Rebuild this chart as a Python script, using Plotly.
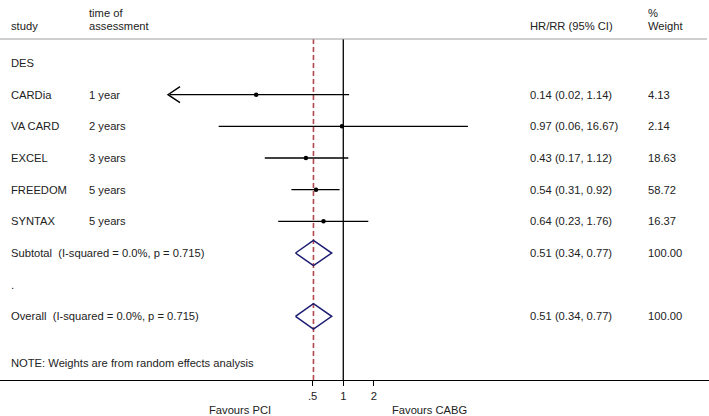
import numpy as np
import plotly.graph_objects as go

# ---------------- data ----------------
group_label = "DES"
studies = ["CARDia", "VA CARD", "EXCEL", "FREEDOM", "SYNTAX"]
times = ["1 year", "2 years", "3 years", "5 years", "5 years"]
hr = [0.14, 0.97, 0.43, 0.54, 0.64]
ci_lo = [0.02, 0.06, 0.17, 0.31, 0.23]
ci_hi = [1.14, 16.67, 1.12, 0.92, 1.76]
weights = [4.13, 2.14, 18.63, 58.72, 16.37]
arrow_left = [True, False, False, False, False]

pooled = [0.51, 0.34, 0.77]          # estimate, lower, upper
pooled_weight = 100.00
het_text = "(I-squared = 0.0%, p = 0.715)"
tick_vals = [0.5, 1, 2]
tick_text = [".5", "1", "2"]
note_text = "NOTE: Weights are from random effects analysis"

# ---------------- layout constants ----------------
W, H = 709, 416
M_T, M_B = 39, 36
PLOT_H = H - M_T - M_B
FONT = "Liberation Sans, Arial, sans-serif"
FS = 11.2
TXT = "#222222"
NAVY = "#1c1c72"
RED = "#b5484a"

# row positions (1 unit = one row)
r_group = 1
r_studies = [2 + i for i in range(len(studies))]
r_sub = r_studies[-1] + 1
r_dot = r_sub + 1
r_overall = r_dot + 1
r_note = r_overall + 1.47
y_top, y_bot = 0.242, 11.01
x_range = [-3.366, 3.586]   # log10 units
dia_h = 0.40

# header rows in paper units (pixels from top -> paper)
p_head1 = (H - M_B - 13) / PLOT_H
p_head2 = (H - M_B - 26) / PLOT_H

X_STUDY, X_TIME, X_CI, X_W = 9 / W, 87 / W, 528 / W, 646 / W

fig = go.Figure()

# reference lines (null and pooled)
fig.add_trace(go.Scatter(x=[1, 1], y=[y_top, y_bot], mode="lines",
                         line=dict(color="black", width=1.3),
                         hoverinfo="skip", showlegend=False))
fig.add_trace(go.Scatter(x=[pooled[0], pooled[0]], y=[y_top, y_bot], mode="lines",
                         line=dict(color=RED, width=1.6, dash="5px,3px"),
                         hoverinfo="skip", showlegend=False))

# confidence intervals
for i in range(len(studies)):
    fig.add_trace(go.Scatter(x=[ci_lo[i], ci_hi[i]], y=[r_studies[i]] * 2, mode="lines",
                             line=dict(color="black", width=1.3),
                             hoverinfo="skip", showlegend=False))
# point estimates
fig.add_trace(go.Scatter(x=hr, y=r_studies, mode="markers",
                         marker=dict(color="black", size=4.5),
                         hoverinfo="skip", showlegend=False))

# diamonds
for r in (r_sub, r_overall):
    est, lo, hi = pooled
    fig.add_trace(go.Scatter(x=[lo, est, hi, est, lo],
                             y=[r, r - dia_h, r, r + dia_h, r], mode="lines",
                             line=dict(color=NAVY, width=1.5),
                             hoverinfo="skip", showlegend=False))

ann = []


def txt(x, y, s, xanchor="left", yref="y", size=FS):
    ann.append(dict(x=x, y=y, xref="paper", yref=yref, text=s, showarrow=False,
                    xanchor=xanchor, yanchor="middle",
                    font=dict(family=FONT, size=size, color=TXT)))


# headers
txt(X_TIME, p_head1, "time of", yref="paper")
txt(X_STUDY, p_head2, "study", yref="paper")
txt(X_TIME, p_head2, "assessment", yref="paper")
txt(X_CI, p_head2, "HR/RR (95% CI)", yref="paper")
txt(X_W, p_head1, "%", yref="paper")
txt(X_W, p_head2, "Weight", yref="paper")

txt(X_STUDY, r_group, group_label)
for i in range(len(studies)):
    r = r_studies[i]
    txt(X_STUDY, r, studies[i])
    txt(X_TIME, r, times[i])
    txt(X_CI, r, f"{hr[i]:.2f} ({ci_lo[i]:.2f}, {ci_hi[i]:.2f})")
    txt(X_W, r, f"{weights[i]:.2f}")

pooled_str = f"{pooled[0]:.2f} ({pooled[1]:.2f}, {pooled[2]:.2f})"
txt(X_STUDY, r_sub, "Subtotal  " + het_text)
txt(X_CI, r_sub, pooled_str)
txt(X_W, r_sub, f"{pooled_weight:.2f}")
txt(X_STUDY, r_dot, ".")
txt(X_STUDY, r_overall, "Overall  " + het_text)
txt(X_CI, r_overall, pooled_str)
txt(X_W, r_overall, f"{pooled_weight:.2f}")
txt(X_STUDY, r_note, note_text)

# favours labels
p_fav = (H - M_B - 410) / PLOT_H
txt(240 / W, p_fav, "Favours PCI", xanchor="center", yref="paper")
txt(430 / W, p_fav, "Favours CABG", xanchor="center", yref="paper")

shapes = [dict(type="line", xref="paper", yref="paper", x0=0, x1=707 / W, y0=1, y1=1,
               line=dict(color="#a0a0a0", width=1.2))]

# open chevron arrowheads for truncated CIs (pixel-sized, anchored at the data point)
for i in range(len(studies)):
    if arrow_left[i]:
        shapes.append(dict(type="path", xref="x", yref="y",
                           xsizemode="pixel", ysizemode="pixel",
                           xanchor=ci_lo[i], yanchor=r_studies[i],
                           path="M 10,8 L -2,0 L 10,-8",
                           line=dict(color="black", width=1.4)))

fig.update_layout(
    width=W, height=H,
    margin=dict(l=0, r=0, t=M_T, b=M_B),
    plot_bgcolor="white", paper_bgcolor="white",
    annotations=ann,
    shapes=shapes,
    xaxis=dict(type="log", range=x_range, showgrid=False, zeroline=False,
               showline=True, linecolor="black", linewidth=1.2,
               tickmode="array", tickvals=tick_vals, ticktext=tick_text,
               ticks="outside", ticklen=5, tickcolor="black", tickwidth=1,
               tickfont=dict(family=FONT, size=FS, color=TXT), fixedrange=True),
    yaxis=dict(range=[y_bot, y_top], showgrid=False, zeroline=False,
               showticklabels=False, showline=False, fixedrange=True),
    showlegend=False,
)

fig.write_html("out.html", config={"displayModeBar": False},
               post_script="document.body.style.margin='0';document.body.style.overflow='hidden';")
